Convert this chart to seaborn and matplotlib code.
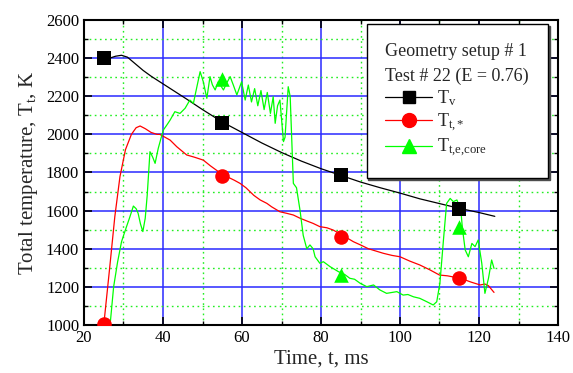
import matplotlib
matplotlib.use("Agg")
import matplotlib.pyplot as plt
import seaborn as sns
import numpy as np
from matplotlib.lines import Line2D
from matplotlib.ticker import MultipleLocator

sns.set_style("ticks")
plt.rcParams['font.family'] = ['Liberation Serif', 'DejaVu Serif']
plt.rcParams['mathtext.fontset'] = 'custom'
plt.rcParams['mathtext.rm'] = 'Liberation Serif'
plt.rcParams['mathtext.it'] = 'Liberation Serif:italic'

# ---- data ----
tv_line_t = [26.5, 28, 29.5, 31, 33, 35, 37, 40, 43, 46, 50, 55, 60, 65, 70, 75, 80, 85, 90, 95, 100, 105, 110, 115, 120, 124]
tv_line_T = [2400, 2410, 2415, 2405, 2370, 2335, 2305, 2265, 2225, 2185, 2130, 2065, 2010, 1955, 1905, 1860, 1820, 1785, 1750, 1720, 1692, 1662, 1637, 1612, 1590, 1570]

tt_line_t = [25, 26.5, 27.8, 29.1, 30.5, 32, 33.2, 34.2, 35.5, 37, 38.5, 39.2, 40.5, 41.8, 43.5, 46, 48, 50.2, 52, 54, 56, 58, 59.5, 61, 63, 64.6, 66.3, 67.5, 69.6, 71.3, 73, 74.7, 76.5, 78, 79.7, 81.5, 83.1, 85.5, 88.2, 90, 92, 95.8, 98, 100, 102.5, 105, 107.5, 110, 112, 114, 116, 118, 120.3, 121.5, 122.4, 123.8]
tt_line_T = [1000, 1300, 1568, 1778, 1920, 2000, 2035, 2044, 2030, 2010, 2000, 2000, 1985, 1970, 1935, 1892, 1880, 1865, 1835, 1805, 1780, 1760, 1743, 1720, 1680, 1656, 1638, 1620, 1594, 1586, 1577, 1560, 1545, 1533, 1516, 1510, 1498, 1470, 1437, 1420, 1400, 1376, 1365, 1358, 1335, 1315, 1290, 1262, 1258, 1250, 1240, 1225, 1210, 1215, 1206, 1171]

tc_line_t = [26.6, 27.5, 28.5, 29.5, 30.5, 31.5, 32.5, 33.2, 33.7, 34.3, 34.9, 35.5, 36.0, 36.7, 37.4, 38.0, 38.8, 39.5, 40.1, 41.0, 41.8, 43.0, 44.3, 45.6, 46.8, 47.7, 48.5, 49.4, 50.2, 51.1, 51.9, 52.5, 53.2, 54.0, 55.3, 56.1, 57.0, 57.8, 58.7, 59.9, 60.8, 61.6, 62.4, 63.2, 64.0, 64.8, 65.6, 66.4, 67.2, 67.9, 68.4, 69.0, 69.6, 70.5, 70.9, 71.7, 72.2, 73.0, 73.8, 74.7, 75.5, 76.4, 77.2, 78.0, 78.5, 79.7, 80.6, 82.3, 84.4, 86.0, 87.3, 88.5, 89.9, 91.6, 93.3, 94.9, 96.6, 99.2, 100.8, 102.0, 103.4, 105.0, 106.8, 108.4, 109.3, 110.1, 111.0, 111.8, 112.7, 113.5, 114.4, 115.4, 115.8, 116.5, 117.3, 118.2, 119.0, 119.8, 120.7, 121.5, 122.4, 123.2, 123.8]
tc_line_T = [1000, 1200, 1330, 1437, 1500, 1560, 1624, 1610, 1586, 1530, 1490, 1560, 1680, 1909, 1880, 1848, 1927, 1980, 2023, 2050, 2075, 2119, 2110, 2137, 2180, 2163, 2242, 2329, 2276, 2189, 2303, 2260, 2233, 2276, 2233, 2268, 2303, 2259, 2207, 2276, 2180, 2259, 2170, 2240, 2150, 2230, 2130, 2220, 2110, 2198, 2058, 2150, 2180, 1962, 1985, 2250, 2198, 1743, 1720, 1600, 1470, 1400, 1420, 1400, 1358, 1324, 1332, 1306, 1280, 1265, 1245, 1240, 1219, 1201, 1210, 1184, 1166, 1175, 1157, 1160, 1148, 1140, 1122, 1105, 1122, 1219, 1446, 1638, 1664, 1647, 1656, 1603, 1507, 1394, 1358, 1428, 1411, 1446, 1324, 1166, 1245, 1341, 1297]

marker_t = [25, 55, 85, 115]
tv_marker_T = [2400, 2062, 1785, 1608]
tt_marker_T = [1005, 1783, 1464, 1246]
tc_marker_T = [None, 2289, 1262, 1516]

legend_labels = [r'T$_\mathrm{v}$', r'T$_\mathrm{t{,}*}$', r'T$_\mathrm{t{,}e{,}core}$']
legend_title = "Geometry setup # 1\nTest # 22 (E = 0.76)"
x_label = "Time, t, ms"
y_label = r"Total temperature, T$_\mathrm{t}$, K"

BLACK, RED, GREEN = "#000000", "#ff0000", "#00ff00"

fig = plt.figure(figsize=(5.73, 3.73), dpi=100)
ax = fig.add_axes([84/573, 1-325/373, 474/573, 305/373])

# grid
ax.set_xlim(20, 140)
ax.set_ylim(1000, 2600)
ax.xaxis.set_major_locator(MultipleLocator(20))
ax.xaxis.set_minor_locator(MultipleLocator(10))
ax.yaxis.set_major_locator(MultipleLocator(200))
ax.yaxis.set_minor_locator(MultipleLocator(100))
ax.grid(which='major', color='#2a2aff', linewidth=1.1, linestyle='-')
ax.grid(which='minor', color='#22ee22', linewidth=1.0, linestyle=(0, (1.2, 2.5)))
ax.set_axisbelow(True)

sns.lineplot(x=tv_line_t, y=tv_line_T, ax=ax, color=BLACK, linewidth=0.9, sort=False, estimator=None)
sns.lineplot(x=tt_line_t, y=tt_line_T, ax=ax, color=RED, linewidth=0.9, sort=False, estimator=None)
sns.lineplot(x=tc_line_t, y=tc_line_T, ax=ax, color=GREEN, linewidth=0.9, sort=False, estimator=None)

sns.scatterplot(x=marker_t, y=tv_marker_T, ax=ax, color=BLACK, marker='s', s=95, edgecolor=BLACK, linewidth=0, zorder=5)
sns.scatterplot(x=marker_t, y=tt_marker_T, ax=ax, color=RED, marker='o', s=110, edgecolor=RED, linewidth=0, zorder=5)
mt = [t for t, v in zip(marker_t, tc_marker_T) if v is not None]
mv = [v for v in tc_marker_T if v is not None]
sns.scatterplot(x=mt, y=mv, ax=ax, color=GREEN, marker='^', s=110, edgecolor=GREEN, linewidth=0, zorder=5)

ax.tick_params(which='both', direction='in', top=True, right=True, labelsize=12, colors='black')
ax.tick_params(which='major', length=6, width=1.2)
ax.tick_params(which='minor', length=3, width=1.0)
for s in ax.spines.values():
    s.set_visible(True)
    s.set_linewidth(1.5)
    s.set_color('black')

ax.set_xlabel(x_label, fontsize=15, labelpad=3)
ax.set_ylabel(y_label, fontsize=15, labelpad=4)

handles = [
    Line2D([], [], color=BLACK, marker='s', markersize=9, linewidth=0.9),
    Line2D([], [], color=RED, marker='o', markersize=10, linewidth=0.9),
    Line2D([], [], color=GREEN, marker='^', markersize=10, linewidth=0.9),
]
leg = ax.legend(handles, legend_labels, title=legend_title, loc='upper right',
                bbox_to_anchor=(0.979, 0.987), fontsize=13, title_fontsize=13,
                frameon=True, fancybox=False, edgecolor='black', framealpha=1,
                handlelength=2.6, handletextpad=0.25, borderpad=1.05, labelspacing=0.18,
                borderaxespad=0,
                alignment='left', shadow={'color': '0.3', 'alpha': 1, 'ox': 1.2, 'oy': -1.2})
leg.get_frame().set_linewidth(1.0)
leg.get_title().set_linespacing(1.6)
leg.set_zorder(10)

fig.savefig("out.png", dpi=100)
